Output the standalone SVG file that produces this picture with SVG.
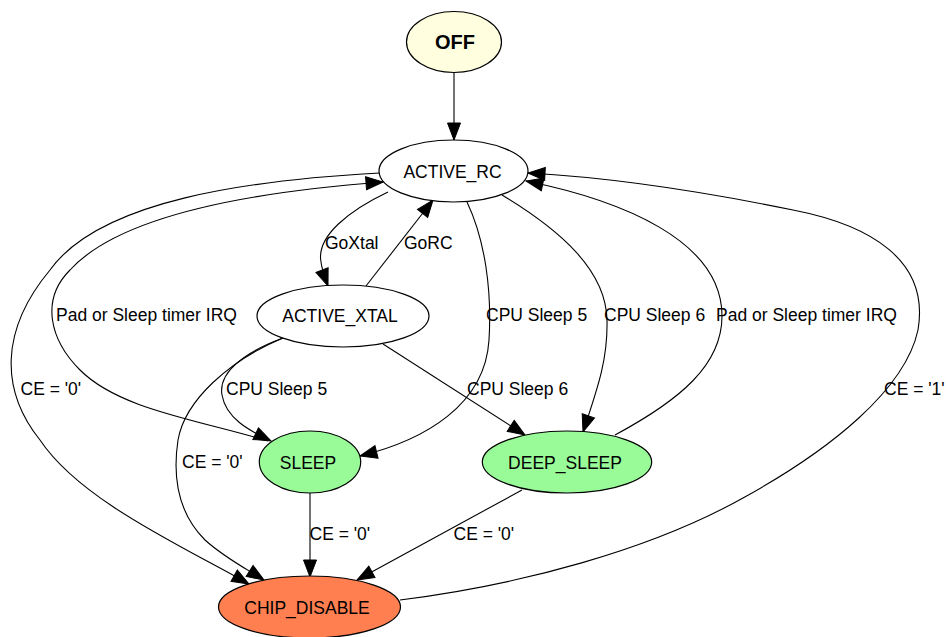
<svg xmlns="http://www.w3.org/2000/svg" width="946" height="637" viewBox="0 0 946 637">
<style>
.n{stroke:#000;stroke-width:1.2}
.e{fill:none;stroke:#000;stroke-width:1.1;marker-end:url(#ah)}
text{font-family:"Liberation Sans",Arial,sans-serif;font-size:17.5px;fill:#000}
.c{text-anchor:middle}
</style>
<defs>
<marker id="ah" markerUnits="userSpaceOnUse" markerWidth="20" markerHeight="14" refX="17" refY="6.5" orient="auto" overflow="visible">
<path d="M0,0 L17,6.5 L0,13 Z" fill="#000" stroke="#000" stroke-width="1"/>
</marker>
</defs>
<rect width="946" height="637" fill="#fff"/>
<g id="connectors">
<path class="e" d="M454,73 L454,140"/>
<path class="e" d="M388,192 C350,210 316,236 321,262 C322,270 325,278 328,286"/>
<path class="e" d="M366,286 L433,200"/>
<path class="e" d="M467,202 C485,240 492,290 489,340 C485,405 425,440 360,456"/>
<path class="e" d="M502,195 C560,230 606,270 607,320 C608,360 597,390 583,432"/>
<path class="e" d="M615,435 C680,400 722,365 722,316 C722,240 620,200 526,181"/>
<path class="e" d="M400,600 C520,585 650,550 743,498 C830,450 905,390 918,330 C930,260 870,225 793,210 C720,195 620,178 528,173"/>
<path class="e" d="M268,441 C200,420 120,410 80,370 C50,340 40,300 70,270 C120,215 250,192 383,182"/>
<path class="e" d="M380,173 C250,180 100,200 50,270 C0,330 0,390 40,440 C80,500 180,545 249,584"/>
<path class="e" d="M283,338 C230,360 185,400 178,440 C172,480 180,515 205,540 C225,558 245,568 264,580"/>
<path class="e" d="M283,338 C245,352 218,372 222,395 C226,418 248,430 271,441"/>
<path class="e" d="M383,344 L525,435"/>
<path class="e" d="M310,493 L310,577"/>
<path class="e" d="M522,490 L357,580"/>
<text x="325" y="249">GoXtal</text>
<text x="404" y="249">GoRC</text>
<text x="486" y="320.5">CPU Sleep 5</text>
<text x="604" y="320.5">CPU Sleep 6</text>
<text x="716" y="320.5">Pad or Sleep timer IRQ</text>
<text x="56" y="321">Pad or Sleep timer IRQ</text>
<text x="20.5" y="394.5">CE = '0'</text>
<text x="226" y="394.5">CPU Sleep 5</text>
<text x="467" y="394.5">CPU Sleep 6</text>
<text x="884" y="394.5">CE = '1'</text>
<text x="182" y="468">CE = '0'</text>
<text x="309.5" y="540">CE = '0'</text>
<text x="453.5" y="540">CE = '0'</text>
</g>
<g id="OFF">
<ellipse class="n" cx="454" cy="42" rx="47.5" ry="30.5" fill="#ffffe0"/>
<text class="c" x="455" y="49" style="font-weight:bold;font-size:20px">OFF</text>
</g>
<g id="ACTIVE_RC">
<ellipse class="n" cx="453.5" cy="171" rx="74.5" ry="31" fill="#fff"/>
<text class="c" x="452.5" y="177.5">ACTIVE_RC</text>
</g>
<g id="ACTIVE_XTAL">
<ellipse class="n" cx="343" cy="316" rx="86" ry="31" fill="#fff"/>
<text class="c" x="340" y="322">ACTIVE_XTAL</text>
</g>
<g id="SLEEP">
<ellipse class="n" cx="310" cy="462" rx="50.7" ry="31" fill="#98fb98"/>
<text class="c" x="308" y="468.5">SLEEP</text>
</g>
<g id="DEEP_SLEEP">
<ellipse class="n" cx="567" cy="462" rx="84.7" ry="31" fill="#98fb98"/>
<text class="c" x="565" y="468.5">DEEP_SLEEP</text>
</g>
<g id="CHIP_DISABLE">
<ellipse class="n" cx="309.5" cy="607" rx="91" ry="31" fill="#ff7f50"/>
<text class="c" x="307" y="613.5">CHIP_DISABLE</text>
</g>
</svg>
